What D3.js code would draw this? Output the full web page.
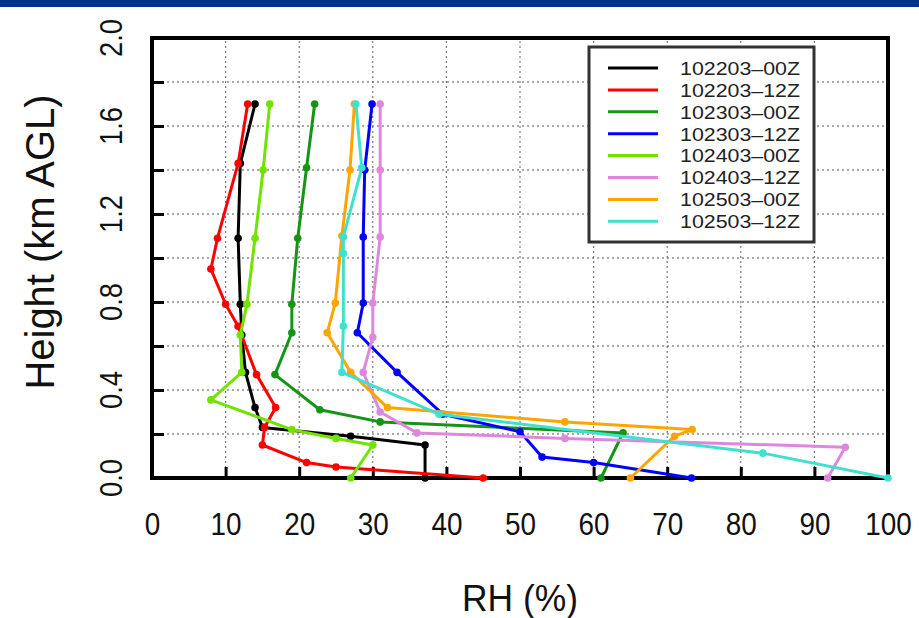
<!DOCTYPE html>
<html><head><meta charset="utf-8">
<script src="https://cdn.jsdelivr.net/npm/d3@7"></script>
<style>html,body{margin:0;padding:0;background:#fff;}svg{display:block;}</style>
</head><body>
<script>
const seriesNames = ["102203-00Z","102203-12Z","102303-00Z","102303-12Z","102403-00Z","102403-12Z","102503-00Z","102503-12Z"];
const seriesColors = ["#000000","#ff0000","#169416","#0000ff","#70e400","#dd88dd","#ffa500","#40e0d0"];
const rh_102203_00 = [37.1,37.1,27,15,14,12.7,12.2,12,11.7,12,14];
const h_102203_00  = [0,0.15,0.19,0.23,0.32,0.48,0.65,0.79,1.09,1.43,1.70];
const rh_102203_12 = [45,25,21,15,15.3,16.8,14.2,11.7,10,8,8.9,11.7,13];
const h_102203_12  = [0,0.05,0.07,0.15,0.23,0.32,0.47,0.69,0.79,0.95,1.09,1.43,1.70];
const rh_102303_00 = [61,64,31,22.8,16.7,19,19,19.8,21,22.1];
const h_102303_00  = [0,0.205,0.255,0.31,0.47,0.66,0.79,1.09,1.41,1.70];
const rh_102303_12 = [73.3,60,53,50,39.5,33.3,27.9,28.7,28.7,28.9,29.9];
const h_102303_12  = [0,0.07,0.095,0.21,0.29,0.48,0.66,0.795,1.095,1.40,1.70];
const rh_102403_00 = [27,30,25,19,8,12.2,12,12.9,14,15.1,16];
const h_102403_00  = [0,0.15,0.18,0.22,0.355,0.48,0.65,0.79,1.09,1.40,1.70];
const rh_102403_12 = [91.8,94.2,56.1,36,31,28.7,30,30,31,31,31];
const h_102403_12  = [0,0.14,0.18,0.205,0.30,0.48,0.64,0.795,1.095,1.40,1.70];
const rh_102503_00 = [65,71,73.4,56.1,32,27,23.8,24.9,25.8,26.9,27.5];
const h_102503_00  = [0,0.19,0.22,0.255,0.32,0.48,0.66,0.795,1.10,1.40,1.70];
const rh_102503_12 = [100,83,39,25.8,26,26,26,28.5,27.7];
const h_102503_12  = [0,0.113,0.29,0.48,0.69,1.02,1.095,1.41,1.70];
const xTicks = [0,10,20,30,40,50,60,70,80,90,100];
const yTickLabels = [0.0,0.4,0.8,1.2,1.6,2.0];
const yMinor = [0,0.2,0.4,0.6,0.8,1.0,1.2,1.4,1.6,1.8,2.0];

const rhs = [rh_102203_00,rh_102203_12,rh_102303_00,rh_102303_12,rh_102403_00,rh_102403_12,rh_102503_00,rh_102503_12];
const hs  = [h_102203_00,h_102203_12,h_102303_00,h_102303_12,h_102403_00,h_102403_12,h_102503_00,h_102503_12];
const series = seriesNames.map((n,i)=>({name:n,color:seriesColors[i],pts:rhs[i].map((v,j)=>[v,hs[i][j]])}));

const W=919,H=618;
const svg=d3.select("body").append("svg").attr("width",W).attr("height",H);
svg.append("rect").attr("width",W).attr("height",7).attr("fill","#003290");

const x=d3.scaleLinear().domain([0,100]).range([152,888]);
const y=d3.scaleLinear().domain([0,2]).range([478,38]);
const font="'Liberation Sans', Arial, Helvetica, sans-serif";

// grid
svg.append("g").selectAll("line").data(xTicks.slice(1,-1)).join("line")
  .attr("x1",d=>x(d)).attr("x2",d=>x(d)).attr("y1",y(0)).attr("y2",y(2))
  .attr("stroke","#777").attr("stroke-width",1.2).attr("stroke-dasharray","2,3");
svg.append("g").selectAll("line").data(yMinor.slice(1,-1)).join("line")
  .attr("x1",x(0)).attr("x2",x(100)).attr("y1",d=>y(d)).attr("y2",d=>y(d))
  .attr("stroke","#555").attr("stroke-width",1.2).attr("stroke-dasharray","2,3");

// axes with inward ticks
const xAxis=d3.axisBottom(x).tickValues(xTicks).tickSize(-11).tickPadding(34).tickFormat(d3.format("d"));
const gx=svg.append("g").attr("transform",`translate(0,${y(0)})`).call(xAxis);
gx.select(".domain").remove();
gx.selectAll(".tick line").attr("stroke","#000").attr("stroke-width",3);
gx.selectAll("text").attr("font-family",font).attr("font-size",32).attr("fill","#111").attr("dy","0.71em")
  .attr("textLength",d=>String(d).length*15.5).attr("lengthAdjust","spacingAndGlyphs");

const yAxis=d3.axisLeft(y).tickValues(yMinor).tickSize(-12).tickFormat("");
const gy=svg.append("g").attr("transform",`translate(${x(0)},0)`).call(yAxis);
gy.select(".domain").remove();
gy.selectAll(".tick line").attr("stroke","#000").attr("stroke-width",3);

svg.append("g").selectAll("text").data(yTickLabels).join("text")
  .attr("transform",d=>`translate(122,${y(d)}) rotate(-90)`)
  .attr("text-anchor","middle").attr("font-family",font).attr("font-size",32).attr("fill","#111")
  .attr("textLength",38).attr("lengthAdjust","spacingAndGlyphs")
  .text(d=>d.toFixed(1));

// frame
svg.append("rect").attr("x",x(0)).attr("y",y(2)).attr("width",x(100)-x(0)).attr("height",y(0)-y(2))
  .attr("fill","none").attr("stroke","#000").attr("stroke-width",4);

// lines
const line=d3.line().x(d=>x(d[0])).y(d=>y(d[1]));
const gs=svg.append("g").selectAll("g").data(series).join("g");
gs.append("path").attr("d",d=>line(d.pts)).attr("fill","none").attr("stroke",d=>d.color)
  .attr("stroke-width",3).attr("stroke-linejoin","round");
gs.selectAll("circle").data(d=>d.pts.map(p=>({p,c:d.color}))).join("circle")
  .attr("cx",d=>x(d.p[0])).attr("cy",d=>y(d.p[1])).attr("r",3.8).attr("fill",d=>d.c);

// legend
const lg=svg.append("g");
lg.append("rect").attr("x",589).attr("y",47).attr("width",225).attr("height",195)
  .attr("fill","#fff").attr("stroke","#333").attr("stroke-width",3);
const rows=lg.selectAll("g").data(series).join("g").attr("transform",(d,i)=>`translate(0,${68+i*21.9})`);
rows.append("line").attr("x1",608).attr("x2",658).attr("stroke",d=>d.color).attr("stroke-width",3);
rows.append("text").attr("x",680).attr("dy","0.36em").attr("font-family",font).attr("font-size",19)
  .attr("fill","#222").attr("textLength",120).attr("lengthAdjust","spacingAndGlyphs")
  .text(d=>d.name.replace("-","\u2013"));

// titles
svg.append("text").attr("x",520).attr("y",611).attr("text-anchor","middle").attr("font-family",font)
  .attr("font-size",36).attr("fill","#111").attr("textLength",116).attr("lengthAdjust","spacingAndGlyphs").text("RH (%)");
svg.append("text").attr("transform","translate(54,242) rotate(-90)").attr("text-anchor","middle")
  .attr("font-family",font).attr("font-size",40).attr("fill","#111")
  .attr("textLength",295).attr("lengthAdjust","spacingAndGlyphs").text("Height (km AGL)");
</script>
</body></html>
